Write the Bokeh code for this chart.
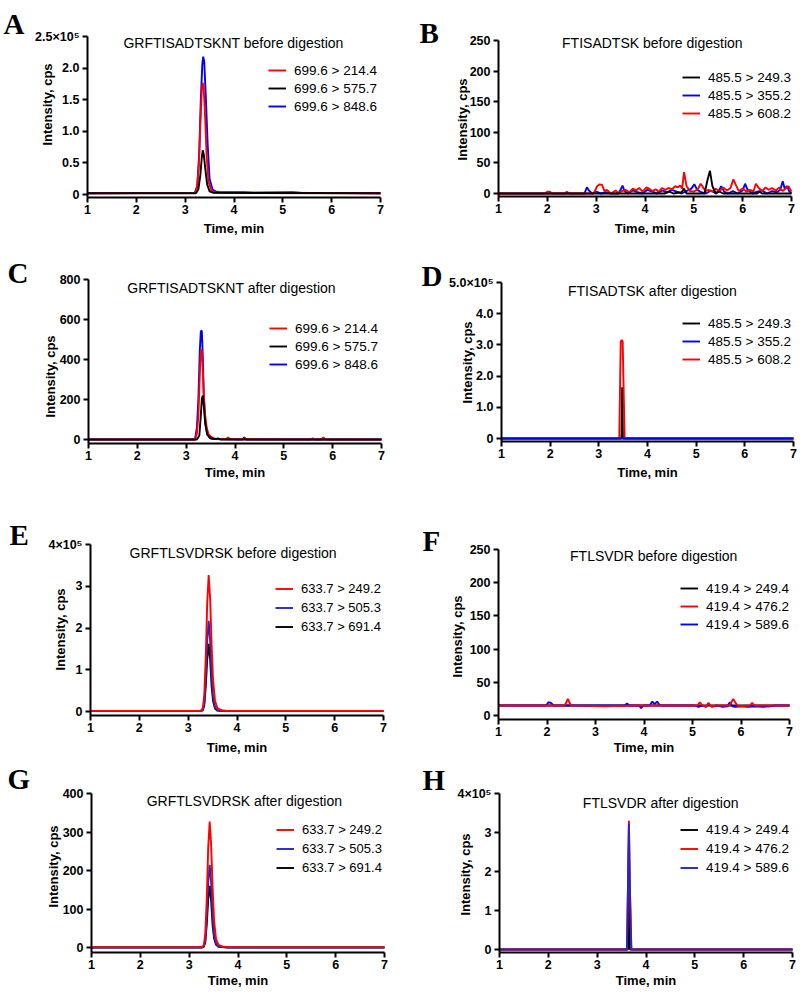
import math
from bokeh.plotting import figure
from bokeh.models import Range1d, FixedTicker, Legend, LegendItem, Label
from bokeh.layouts import column, row
from bokeh.embed import file_html
from bokeh.resources import INLINE

RED = "#FF0000"
BLUE = "#0000FF"
NAVY = "#2626C8"
BLACK = "#000000"

TIME_TICKS = [1, 2, 3, 4, 5, 6, 7]

# ---------------- Panel A: GRFTISADTSKNT before digestion ----------------
A_t_214 = [1.0, 3.20, 3.24, 3.28, 3.31, 3.34, 3.36, 3.38, 3.41, 3.44, 3.48, 3.54, 3.62, 7.0]
A_i_214 = [2000, 2500, 10000, 45000, 110000, 165000, 177000, 168000, 120000, 60000, 20000, 6000, 3000, 2000]
A_t_575 = [1.0, 3.22, 3.27, 3.31, 3.34, 3.36, 3.38, 3.41, 3.45, 3.50, 3.58, 7.0]
A_i_575 = [2000, 2000, 8000, 30000, 58000, 70000, 64000, 42000, 16000, 5000, 2500, 2000]
A_t_848 = [1.0, 3.20, 3.25, 3.29, 3.32, 3.35, 3.37, 3.39, 3.42, 3.46, 3.50, 3.56, 3.62, 3.70, 4.20, 4.40, 5.20, 5.40, 7.0]
A_i_848 = [2000, 2500, 15000, 70000, 150000, 205000, 218000, 210000, 160000, 80000, 25000, 8000, 5000, 3500, 3500, 3000, 3500, 2500, 2000]
A_yticks = [0, 50000, 100000, 150000, 200000, 250000]
A_ylabels = ["0", "0.5", "1.0", "1.5", "2.0", "2.5×10⁵"]

# ---------------- Panel B: FTISADTSK before digestion ----------------
B_t_249 = [1.0, 4.40, 4.50, 4.58, 4.75, 4.80, 4.85, 5.22, 5.28, 5.33, 5.38, 5.45, 5.52, 5.60, 6.30, 6.35, 6.40, 7.0]
B_i_249 = [0, 0, 3, 0, 2, 8, 0, 0, 22, 37, 12, 0, 3, 0, 0, 3, 0, 0]
B_t_355 = [1.0, 2.76, 2.81, 2.86, 2.92, 3.00, 3.10, 3.20, 3.30, 3.45, 3.50, 3.54, 3.58, 3.65, 3.75, 3.85, 3.95,
           4.05, 4.15, 4.25, 4.35, 4.45, 4.55, 4.65, 4.75, 4.85, 4.95, 5.01, 5.07, 5.15, 5.25, 5.35, 5.45, 5.52,
           5.56, 5.62, 5.70, 5.80, 5.90, 6.00, 6.05, 6.10, 6.20, 6.30, 6.40, 6.50, 6.60, 6.70, 6.77, 6.82, 6.86,
           6.91, 6.95, 7.0]
B_i_355 = [0, 0, 10, 4, 0, 3, 0, 2, 0, 0, 6, 13, 4, 0, 5, 2, 0,
           6, 3, 0, 5, 2, 6, 3, 0, 4, 8, 15, 6, 2, 0, 5, 0, 6,
           12, 3, 0, 4, 0, 5, 16, 6, 0, 3, 5, 0, 4, 2, 6, 20, 8,
           12, 4, 0]
B_t_608 = [1.0, 1.95, 2.00, 2.05, 2.10, 2.35, 2.40, 2.45, 2.95, 3.02, 3.07, 3.12, 3.17, 3.22, 3.30, 3.40, 3.45,
           3.50, 3.60, 3.68, 3.75, 3.82, 3.88, 3.95, 4.03, 4.08, 4.15, 4.22, 4.28, 4.35, 4.42, 4.48, 4.55, 4.62,
           4.67, 4.72, 4.76, 4.80, 4.85, 4.92, 5.00, 5.08, 5.14, 5.19, 5.24, 5.30, 5.38, 5.45, 5.52, 5.60, 5.68,
           5.75, 5.81, 5.86, 5.92, 6.00, 6.08, 6.15, 6.22, 6.27, 6.33, 6.40, 6.47, 6.53, 6.60, 6.68, 6.75, 6.82,
           6.88, 6.94, 7.0]
B_i_608 = [0, 0, 3, 3, 0, 0, 3, 0, 0, 12, 15, 14, 4, 6, 0, 5, 0,
           3, 6, 2, 8, 5, 9, 3, 10, 8, 4, 7, 3, 9, 6, 9, 7, 12,
           10, 13, 8, 35, 12, 4, 3, 7, 16, 10, 4, 6, 3, 8, 3, 10, 5,
           9, 23, 14, 4, 8, 3, 6, 3, 16, 9, 4, 10, 6, 9, 5, 10, 4,
           8, 12, 3]
B_yticks = [0, 50, 100, 150, 200, 250]
B_ylabels = ["0", "50", "100", "150", "200", "250"]

# ---------------- Panel C: GRFTISADTSKNT after digestion ----------------
C_t_214 = [1.0, 3.18, 3.22, 3.25, 3.28, 3.30, 3.32, 3.34, 3.36, 3.39, 3.42, 3.46, 3.50, 3.55, 3.62, 3.82, 3.86,
           3.90, 5.55, 5.59, 5.63, 5.77, 5.81, 5.85, 7.0]
C_i_214 = [0, 0, 30, 120, 330, 440, 450, 360, 220, 120, 60, 25, 15, 8, 2, 2, 10,
           2, 0, 6, 0, 0, 10, 0, 0]
C_t_575 = [1.0, 3.22, 3.27, 3.30, 3.32, 3.34, 3.36, 3.39, 3.43, 3.50, 3.60, 3.65, 3.70, 7.0]
C_i_575 = [0, 0, 20, 120, 200, 220, 170, 80, 25, 6, 2, 6, 0, 0]
C_t_848 = [1.0, 3.18, 3.22, 3.25, 3.28, 3.30, 3.32, 3.34, 3.36, 3.39, 3.43, 3.48, 3.55, 4.15, 4.19, 4.23, 7.0]
C_i_848 = [0, 0, 60, 200, 450, 540, 545, 420, 230, 90, 30, 8, 2, 0, 10, 0, 0]
C_yticks = [0, 200, 400, 600, 800]
C_ylabels = ["0", "200", "400", "600", "800"]

# ---------------- Panel D: FTISADTSK after digestion ----------------
D_t_249 = [1.0, 3.465, 3.48, 3.495, 7.0]
D_i_249 = [0, 0, 164000, 0, 0]
D_t_355 = [1.0, 7.0]
D_i_355 = [0, 0]
D_t_608 = [1.0, 3.42, 3.45, 3.47, 3.49, 3.53, 7.0]
D_i_608 = [0, 0, 310000, 316000, 310000, 0, 0]
D_yticks = [0, 100000, 200000, 300000, 400000, 500000]
D_ylabels = ["0", "1.0", "2.0", "3.0", "4.0", "5.0×10⁵"]

# ---------------- Panel E: GRFTLSVDRSK before digestion ----------------
E_time = [1.0, 3.26, 3.30, 3.33, 3.36, 3.39, 3.42, 3.45, 3.48, 3.51, 3.55, 3.60, 3.68, 3.80, 7.0]
E_i_249 = [1500, 1500, 8000, 40000, 130000, 260000, 327000, 270000, 160000, 75000, 25000, 8000, 3000, 1500, 1500]
E_i_505 = [1000, 1000, 4000, 20000, 80000, 170000, 217000, 170000, 85000, 35000, 10000, 3000, 1500, 1000, 1000]
E_i_691 = [1000, 1000, 3000, 15000, 60000, 125000, 162000, 125000, 60000, 25000, 7000, 2000, 1000, 1000, 1000]
E_yticks = [0, 100000, 200000, 300000, 400000]
E_ylabels = ["0", "1", "2", "3", "4×10⁵"]

# ---------------- Panel F: FTLSVDR before digestion ----------------
F_t_249 = [1.0, 7.0]
F_i_249 = [15, 15]
F_t_476 = [1.0, 2.36, 2.40, 2.43, 2.46, 2.50, 3.20, 3.80, 4.60, 5.10, 5.15, 5.20, 5.28, 5.33, 5.38, 5.50, 5.76,
           5.81, 5.84, 5.88, 5.94, 6.18, 6.23, 6.28, 7.0]
F_i_476 = [15, 15, 20, 25, 20, 15, 14, 15, 15, 15, 20, 15, 14, 19, 14, 15, 15,
           21, 25, 20, 14, 15, 19, 15, 15]
F_t_589 = [1.0, 1.98, 2.03, 2.08, 2.14, 3.60, 3.65, 3.70, 3.90, 3.94, 3.98, 4.12, 4.17, 4.22, 4.27, 4.31, 4.36,
           4.50, 5.05, 5.12, 5.20, 5.28, 5.34, 5.40, 5.50, 5.62, 5.72, 5.77, 5.82, 5.88, 6.00, 6.15, 6.30, 6.45,
           6.60, 6.70, 7.0]
F_i_589 = [15, 15, 20, 19, 15, 15, 18, 15, 15, 11, 15, 15, 21, 17, 21, 17, 15,
           15, 15, 13, 15, 13, 17, 13, 15, 13, 14, 20, 14, 13, 14, 13, 14, 13,
           14, 15, 15]
F_yticks = [0, 50, 100, 150, 200, 250]
F_ylabels = ["0", "50", "100", "150", "200", "250"]

# ---------------- Panel G: GRFTLSVDRSK after digestion ----------------
G_time = [1.0, 3.26, 3.30, 3.33, 3.36, 3.39, 3.42, 3.45, 3.48, 3.51, 3.55, 3.60, 3.68, 3.80, 7.0]
G_i_249 = [1, 1, 6, 35, 125, 260, 327, 265, 155, 70, 22, 7, 3, 1, 1]
G_i_505 = [0, 0, 3, 18, 80, 170, 215, 168, 82, 32, 9, 3, 1, 0, 0]
G_i_691 = [0, 0, 2, 14, 60, 125, 160, 122, 58, 24, 7, 2, 1, 0, 0]
G_yticks = [0, 100, 200, 300, 400]
G_ylabels = ["0", "100", "200", "300", "400"]

# ---------------- Panel H: FTLSVDR after digestion ----------------
H_t_249 = [1.0, 3.63, 3.65, 3.67, 7.0]
H_i_249 = [0, 0, 270000, 0, 0]
H_t_476 = [1.0, 3.61, 3.63, 3.65, 3.67, 3.70, 7.0]
H_i_476 = [0, 0, 160000, 330000, 160000, 0, 0]
H_t_589 = [1.0, 3.61, 3.63, 3.65, 3.67, 3.70, 7.0]
H_i_589 = [0, 0, 155000, 322000, 155000, 0, 0]
H_yticks = [0, 100000, 200000, 300000, 400000]
H_ylabels = ["0", "1", "2", "3", "4×10⁵"]

PANELS = [
    dict(letter="A", title="GRFTISADTSKNT before digestion", yticks=A_yticks, ylabels=A_ylabels,
         series=[("699.6 > 214.4", A_t_214, A_i_214, RED), ("699.6 > 575.7", A_t_575, A_i_575, BLACK),
                 ("699.6 > 848.6", A_t_848, A_i_848, BLUE)], order=[2, 0, 1]),
    dict(letter="B", title="FTISADTSK before digestion", yticks=B_yticks, ylabels=B_ylabels,
         series=[("485.5 > 249.3", B_t_249, B_i_249, BLACK), ("485.5 > 355.2", B_t_355, B_i_355, BLUE),
                 ("485.5 > 608.2", B_t_608, B_i_608, RED)], order=[1, 2, 0]),
    dict(letter="C", title="GRFTISADTSKNT after digestion", yticks=C_yticks, ylabels=C_ylabels,
         series=[("699.6 > 214.4", C_t_214, C_i_214, RED), ("699.6 > 575.7", C_t_575, C_i_575, BLACK),
                 ("699.6 > 848.6", C_t_848, C_i_848, BLUE)], order=[2, 0, 1]),
    dict(letter="D", title="FTISADTSK after digestion", yticks=D_yticks, ylabels=D_ylabels,
         series=[("485.5 > 249.3", D_t_249, D_i_249, BLACK), ("485.5 > 355.2", D_t_355, D_i_355, BLUE),
                 ("485.5 > 608.2", D_t_608, D_i_608, RED)], order=[0, 2, 1]),
    dict(letter="E", title="GRFTLSVDRSK before digestion", yticks=E_yticks, ylabels=E_ylabels,
         series=[("633.7 > 249.2", E_time, E_i_249, RED), ("633.7 > 505.3", E_time, E_i_505, NAVY),
                 ("633.7 > 691.4", E_time, E_i_691, BLACK)], order=[2, 1, 0]),
    dict(letter="F", title="FTLSVDR before digestion", yticks=F_yticks, ylabels=F_ylabels,
         series=[("419.4 > 249.4", F_t_249, F_i_249, BLACK), ("419.4 > 476.2", F_t_476, F_i_476, RED),
                 ("419.4 > 589.6", F_t_589, F_i_589, BLUE)], order=[0, 2, 1]),
    dict(letter="G", title="GRFTLSVDRSK after digestion", yticks=G_yticks, ylabels=G_ylabels,
         series=[("633.7 > 249.2", G_time, G_i_249, RED), ("633.7 > 505.3", G_time, G_i_505, NAVY),
                 ("633.7 > 691.4", G_time, G_i_691, BLACK)], order=[2, 1, 0]),
    dict(letter="H", title="FTLSVDR after digestion", yticks=H_yticks, ylabels=H_ylabels,
         series=[("419.4 > 249.4", H_t_249, H_i_249, BLACK), ("419.4 > 476.2", H_t_476, H_i_476, RED),
                 ("419.4 > 589.6", H_t_589, H_i_589, NAVY)], order=[0, 1, 2]),
]

# ---------------- layout / style (page pixel geometry) ----------------
ROWS = [(0, 240), (240, 250), (490, 265), (755, 235)]   # (page y origin, height)
COLS = [(0, 400), (400, 400)]                            # (page x origin, width)
# fl/fr: x=1 / x=7 pixel, ft: top tick, zy: zero, ay: x-axis line, lx/lb: letter left/baseline,
# ttx/tty: title centre, lgx/lgy: legend glyph left / first row centre, lgh: row height,
# ylx/yly: y-label centre, xly: x-label centre y, lfs: legend font size
GEOM = {
    "A": dict(fl=87, fr=380, ft=36, zy=194, ay=197, lx=3, lb=23, ttx=3.99, tty=42, lgx=268, lgy=70, lgh=18, ylx=47, yly=104, xly=228, lfs=13.5),
    "B": dict(fl=498, fr=791, ft=40, zy=193, ay=196, lx=419, lb=32, ttx=4.15, tty=42, lgx=682, lgy=77, lgh=18, ylx=462, yly=119, xly=228, lfs=13.5),
    "C": dict(fl=88, fr=381, ft=279, zy=439, ay=443, lx=7, lb=272, ttx=3.93, tty=287, lgx=269, lgy=328, lgh=18, ylx=50, yly=376, xly=472, lfs=13.5),
    "D": dict(fl=501, fr=793, ft=282, zy=438, ay=441, lx=421, lb=275, ttx=4.10, tty=290, lgx=682, lgy=323, lgh=18, ylx=467, yly=362, xly=472, lfs=13.5),
    "E": dict(fl=90, fr=383, ft=544, zy=711, ay=715, lx=9, lb=534, ttx=3.92, tty=552, lgx=275, lgy=588, lgh=19, ylx=60, yly=629, xly=747, lfs=13),
    "F": dict(fl=498, fr=789, ft=549, zy=715, ay=719, lx=422, lb=540, ttx=4.20, tty=555, lgx=680, lgy=588, lgh=18, ylx=457, yly=636, xly=747, lfs=13.5),
    "G": dict(fl=91, fr=384, ft=793, zy=947, ay=952, lx=7, lb=778, ttx=4.13, tty=800, lgx=276, lgy=829, lgh=19, ylx=53, yly=866, xly=980, lfs=13),
    "H": dict(fl=499, fr=792, ft=793, zy=949, ay=952, lx=422, lb=779, ttx=4.30, tty=802, lgx=680, lgy=829, lgh=19, ylx=465, yly=874, xly=980, lfs=13.5),
}

SANS = "Liberation Sans"
SERIF = "Liberation Serif"


def panel(spec, ri, ci):
    g = GEOM[spec["letter"]]
    x0, w = COLS[ci]
    y0, h = ROWS[ri]
    bottom = y0 + h
    # x: data 1..7 spans fl..fr; the frame is the whole figure
    ppm = (g["fr"] - g["fl"]) / 6.0
    xs = 1 - (g["fl"] - x0) / ppm
    xe = 7 + (x0 + w - g["fr"]) / ppm
    # y: zero at zy, top tick at ft
    ytop = spec["yticks"][-1]
    per_px = ytop / (g["zy"] - g["ft"])
    ys = -(bottom - g["zy"]) * per_px
    ye = ytop + (g["ft"] - y0) * per_px
    yaxis_at = -(g["ay"] - g["zy"]) * per_px

    p = figure(width=w, height=h, output_backend="svg", toolbar_location=None,
               x_range=Range1d(xs, xe), y_range=Range1d(ys, ye),
               min_border_left=0, min_border_right=0, min_border_top=0, min_border_bottom=0)
    p.title.visible = False
    p.outline_line_color = None
    p.grid.visible = False
    p.background_fill_color = "white"
    p.border_fill_color = "white"

    rends = [None] * len(spec["series"])
    for k in spec["order"]:
        lbl, t, v, col = spec["series"][k]
        rends[k] = p.line(t, v, line_color=col, line_width=1.9)

    xax = p.xaxis[0]
    yax = p.yaxis[0]
    for ax in (xax, yax):
        ax.axis_line_width = 2
        ax.major_tick_line_width = 2
        ax.major_tick_in = 0
        ax.major_tick_out = 5
        ax.minor_tick_line_color = None
        ax.major_label_text_font = SANS
        ax.major_label_text_font_style = "bold"
        ax.major_label_text_font_size = "12.5px"
        ax.major_label_text_color = "black"

    xax.fixed_location = yaxis_at
    xax.bounds = (1, 7)
    xax.ticker = FixedTicker(ticks=TIME_TICKS, minor_ticks=[])
    xax.major_label_standoff = 2

    yax.fixed_location = 1
    yax.bounds = (yaxis_at, ytop)
    yax.ticker = FixedTicker(ticks=spec["yticks"], minor_ticks=[])
    yax.major_label_overrides = {tk: lb for tk, lb in zip(spec["yticks"], spec["ylabels"])}
    yax.major_label_standoff = 3

    # axis titles
    p.add_layout(Label(x=g["ylx"] - x0, y=bottom - g["yly"], x_units="screen", y_units="screen",
                       text="Intensity, cps", angle=math.pi / 2, text_align="center", text_baseline="middle",
                       text_font=SANS, text_font_style="bold", text_font_size="13px", text_color="black"))
    p.add_layout(Label(x=4, y=bottom - g["xly"], x_units="data", y_units="screen",
                       text="Time, min", text_align="center", text_baseline="middle",
                       text_font=SANS, text_font_style="bold", text_font_size="13px", text_color="black"))

    # legend
    lh = g["lgh"]
    items = [LegendItem(label=s[0], renderers=[rends[k]]) for k, s in enumerate(spec["series"])]
    vy = (bottom - (g["lgy"] - lh / 2)) - 3 * lh
    leg = Legend(items=items, location=(g["lgx"] - x0, vy), padding=0, margin=0, spacing=0,
                 label_height=lh, glyph_height=lh, glyph_width=18, label_standoff=8,
                 border_line_color=None, background_fill_alpha=0,
                 label_text_font=SANS, label_text_font_size=f"{g['lfs']}px", label_text_color="black")
    p.add_layout(leg)

    # panel title and letter
    p.add_layout(Label(x=g["ttx"], y=bottom - g["tty"], x_units="data", y_units="screen",
                       text=spec["title"], text_align="center", text_baseline="middle",
                       text_font=SANS, text_font_size="14px", text_color="black"))
    p.add_layout(Label(x=g["lx"] - x0, y=bottom - g["lb"], x_units="screen", y_units="screen",
                       text=spec["letter"], text_align="left", text_baseline="alphabetic",
                       text_font=SERIF, text_font_style="bold", text_font_size="29px", text_color="black"))
    return p


rows_out = []
for r in range(4):
    rows_out.append(row(*[panel(PANELS[2 * r + c], r, c) for c in range(2)]))

layout = column(*rows_out)
open("out.html", "w").write(file_html(layout, INLINE))
